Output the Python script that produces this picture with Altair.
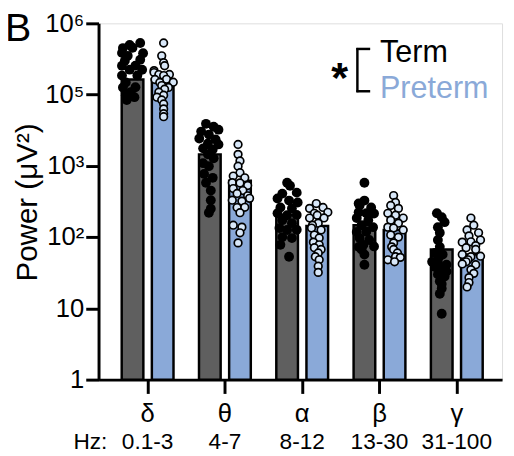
import altair as alt
import pandas as pd

# ---------------- data ----------------
bands = ["δ", "θ", "α", "β", "γ"]
hz_labels = ["0.1-3", "4-7", "8-12", "13-30", "31-100"]
groups = ["Term", "Preterm"]

# y tick values and the labels printed on the reference axis
tick_values = [1, 10, 100, 1000, 10000, 100000]
tick_labels = ["1", "10", "10²", "10³", "10⁵", "10⁶"]

term_means = [16300, 1450, 205, 147, 67]
preterm_means = [16500, 620, 143, 126, 57]

delta_term = [53000, 49700, 45000, 45500, 38500, 38000, 35000, 30800, 29900, 25400, 25500,
              22400, 22300, 18500, 18600, 14800, 12600, 12700, 10800, 9800, 9200, 8400]
delta_term_jit = [8, -3, -10, 0, -11, 11, -5, 8, -8, -11, 3, -3, 10, -11, 5, -7, -10, 3, -2, -7, 2, -6]
delta_pre = [53000, 35000, 28000, 25400, 21700, 20400, 19100, 19200, 18500, 16300, 16400, 14800,
             14900, 13400, 12600, 11900, 10800, 9800, 9200, 8400, 7400, 6300, 5400, 4900]
delta_pre_jit = [1, -1, 1, 2, -9, -9, -4, 7, 1, -8, 4, -3, 11, -1, 6, 2, -4, 1, -6, -1, 1, 1, 1, 1]

theta_term = [3890, 3540, 3220, 3030, 2750, 2420, 2350, 2060, 2000, 1760, 1700, 1450, 1280,
              1090, 990, 770, 680, 580, 450, 330, 250, 220]
theta_term_jit = [-4, 4, 9, -9, -1, -11, 6, -2, 9, -7, 3, -2, 4, -7, -1, -6, 3, -4, 1, 1, 1, -1]
theta_pre = [2000, 1450, 1170, 990, 800, 720, 680, 580, 575, 530, 480, 450, 410, 380, 350, 330,
             320, 260, 262, 220, 147, 138, 115, 83]
theta_pre_jit = [-2, -2, 0, -2, 0, -7, 5, -8, 0, 8, -7, 3, -3, 8, 10, -8, 2, -3, 5, 0, -7, 2, 0, -2]

alpha_term = [580, 526, 421, 408, 348, 326, 306, 261, 253, 216, 203, 205, 173, 157, 134, 126,
              127, 100, 97, 78, 53]
alpha_term_jit = [0, 3, 10, -5, -10, 2, 11, -7, 5, -10, 0, 10, -5, 5, -8, 0, 10, -5, 5, -7, 2]
alpha_pre = [296, 261, 253, 223, 216, 203, 185, 186, 157, 147, 134, 126, 107, 97, 85, 78, 71,
             67, 60, 53, 48, 39, 32]
alpha_pre_jit = [-1, 6, -8, 11, -3, 0, -8, 7, 1, -5, -6, 4, -3, 2, -4, 2, -3, 4, 1, -2, 2, 1, 1]

beta_term = [580, 326, 296, 278, 261, 223, 216, 214, 185, 173, 147, 138, 118, 119, 97, 91, 78,
             73, 74, 67, 57, 41]
beta_term_jit = [0, 0, -6, -5, 7, -6, 2, 10, -8, 4, -3, 9, -8, 2, -5, 5, -1, -6, 10, -3, 0, 0]
beta_pre = [383, 306, 278, 253, 216, 203, 185, 173, 157, 138, 134, 126, 107, 100, 83, 73, 67,
            60, 53, 52, 48, 45]
beta_pre_jit = [-1, 1, -4, 4, -7, 1, 9, -4, 4, -7, -1, 9, -4, 4, -1, -3, -1, 3, 1, 6, -7, 0]

gamma_term = [216, 190, 162, 138, 115, 91, 73, 60, 57, 52, 45, 44, 41, 38, 35, 33, 30, 28, 24,
              22, 19, 16, 8.4]
gamma_term_jit = [-5, 0, 3, -4, -2, -4, -2, -7, 1, -3, -10, -4, 5, -7, 1, 5, -4, 3, -2, 0, 0, -2, 0]
gamma_pre = [185, 147, 126, 115, 104, 91, 85, 86, 76, 71, 67, 57, 53, 54, 48, 45, 41, 42, 35,
             31, 27, 23, 20]
gamma_pre_jit = [-1, 2, -5, 7, -3, 9, -10, -1, 4, -6, 4, -10, -1, 9, -4, -6, 4, -10, -1, 2, -3, -3, -5]

# ---------------- tables ----------------
TERM_C = "#5f5f5f"
PRE_C = "#8aa9d8"
PRE_PT = "#d8e7f8"
FONT = "Liberation Sans"

side_off = {"Term": -0.195, "Preterm": 0.195}
band_unit_px = 80.5  # px per band on the x scale below

bars = pd.DataFrame(
    [{"band": b, "idx": i, "group": "Term", "x": i + side_off["Term"], "mean": term_means[i]}
     for i, b in enumerate(bands)]
    + [{"band": b, "idx": i, "group": "Preterm", "x": i + side_off["Preterm"], "mean": preterm_means[i]}
       for i, b in enumerate(bands)]
)

term_sets = [(delta_term, delta_term_jit), (theta_term, theta_term_jit), (alpha_term, alpha_term_jit),
             (beta_term, beta_term_jit), (gamma_term, gamma_term_jit)]
pre_sets = [(delta_pre, delta_pre_jit), (theta_pre, theta_pre_jit), (alpha_pre, alpha_pre_jit),
            (beta_pre, beta_pre_jit), (gamma_pre, gamma_pre_jit)]

rows = []
for i, b in enumerate(bands):
    for grp, sets in (("Term", term_sets), ("Preterm", pre_sets)):
        vals, jits = sets[i]
        for v, j in zip(vals, jits):
            rows.append({"band": b, "group": grp, "value": v,
                         "x": i + side_off[grp] + j / band_unit_px})
points = pd.DataFrame(rows)

labels_df = pd.DataFrame({"idx": list(range(len(bands))), "greek": bands, "hz": hz_labels})

# ---------------- scales ----------------
xscale = alt.Scale(domain=[-0.571, 4.522], nice=False, zero=False)
yscale = alt.Scale(type="log", domain=[1, 100000], nice=False)

label_expr = " : ".join(
    f"datum.value == {v} ? '{l}'" for v, l in zip(tick_values[:-1], tick_labels[:-1])
) + f" : '{tick_labels[-1]}'"

x_axis = alt.Axis(values=list(range(len(bands))), labels=False, title=None, grid=False,
                  tickSize=14, tickWidth=3, domainWidth=3, domainColor="black", tickColor="black")
y_axis = alt.Axis(values=tick_values, labelExpr=label_expr, title=None, grid=False,
                  tickSize=13, tickWidth=3, domainWidth=3, domainColor="black", tickColor="black",
                  labelFontSize=26, labelFont=FONT, labelColor="black", labelPadding=2)

bar_layer = alt.Chart(bars).mark_bar(size=22, stroke="black", strokeWidth=2.5).encode(
    x=alt.X("x:Q", scale=xscale, axis=x_axis),
    y=alt.Y("mean:Q", scale=yscale, axis=y_axis),
    y2=alt.datum(1),
    color=alt.Color("group:N", scale=alt.Scale(domain=groups, range=[TERM_C, PRE_C]), legend=None),
)

term_pts = alt.Chart(points).transform_filter(alt.datum.group == "Term").mark_point(
    shape="circle", filled=True, size=100, color="black", opacity=1
).encode(x=alt.X("x:Q", scale=xscale), y=alt.Y("value:Q", scale=yscale))

pre_pts = alt.Chart(points).transform_filter(alt.datum.group == "Preterm").mark_point(
    shape="circle", filled=True, size=60, fill=PRE_PT, stroke="black", strokeWidth=1.7, opacity=1
).encode(x=alt.X("x:Q", scale=xscale), y=alt.Y("value:Q", scale=yscale))

greek = alt.Chart(labels_df).mark_text(fontSize=26, font=FONT, color="black", baseline="alphabetic").encode(
    x=alt.X("idx:Q", scale=xscale), y=alt.value(405), text="greek:N")
hz = alt.Chart(labels_df).mark_text(fontSize=23, font=FONT, color="black", baseline="alphabetic").encode(
    x=alt.X("idx:Q", scale=xscale), y=alt.value(432), text="hz:N")
hz_prefix = alt.Chart(labels_df).transform_filter(alt.datum.idx == 0).mark_text(
    fontSize=23, font=FONT, color="black", baseline="alphabetic", align="right", text="Hz:"
).encode(x=alt.value(9), y=alt.value(432))

ytitle = alt.Chart(labels_df).transform_filter(alt.datum.idx == 0).mark_text(
    fontSize=30, font=FONT, color="black", baseline="alphabetic", align="center", angle=270,
    text="Power (μV²)"
).encode(x=alt.value(-63), y=alt.value(182))

panel = alt.Chart(labels_df).transform_filter(alt.datum.idx == 0).mark_text(
    fontSize=40, font=FONT, color="black", baseline="alphabetic", align="left", text="B"
).encode(x=alt.value(-95), y=alt.value(18))

star = alt.Chart(labels_df).transform_filter(alt.datum.idx == 0).mark_text(
    fontSize=44, font=FONT, fontWeight="bold", color="black", baseline="alphabetic", align="center", text="*"
).encode(x=alt.value(245), y=alt.value(70))

bracket_v = alt.Chart(labels_df).transform_filter(alt.datum.idx == 0).mark_rule(
    color="black", strokeWidth=2.5).encode(x=alt.value(263), y=alt.value(25), y2=alt.value(70))
bracket_t = alt.Chart(labels_df).transform_filter(alt.datum.idx == 0).mark_rule(
    color="black", strokeWidth=2.5).encode(x=alt.value(262), x2=alt.value(276), y=alt.value(26))
bracket_b = alt.Chart(labels_df).transform_filter(alt.datum.idx == 0).mark_rule(
    color="black", strokeWidth=2.5).encode(x=alt.value(262), x2=alt.value(276), y=alt.value(69))

term_txt = alt.Chart(labels_df).transform_filter(alt.datum.idx == 0).mark_text(
    fontSize=31, font=FONT, color="black", baseline="alphabetic", align="left", text="Term"
).encode(x=alt.value(286), y=alt.value(39))
pre_txt = alt.Chart(labels_df).transform_filter(alt.datum.idx == 0).mark_text(
    fontSize=31, font=FONT, color=PRE_C, baseline="alphabetic", align="left", text="Preterm"
).encode(x=alt.value(286), y=alt.value(76))

chart = alt.layer(
    bar_layer, term_pts, pre_pts, greek, hz, hz_prefix, ytitle, panel, star,
    bracket_v, bracket_t, bracket_b, term_txt, pre_txt
).properties(
    width=410, height=362,
    autosize=alt.AutoSizeParams(type="none"),
    padding={"left": 92, "top": 12, "right": 4, "bottom": 74},
).configure_view(stroke=None).configure(background="white")

chart.save("out.html", embed_options={"renderer": "svg", "actions": False})
